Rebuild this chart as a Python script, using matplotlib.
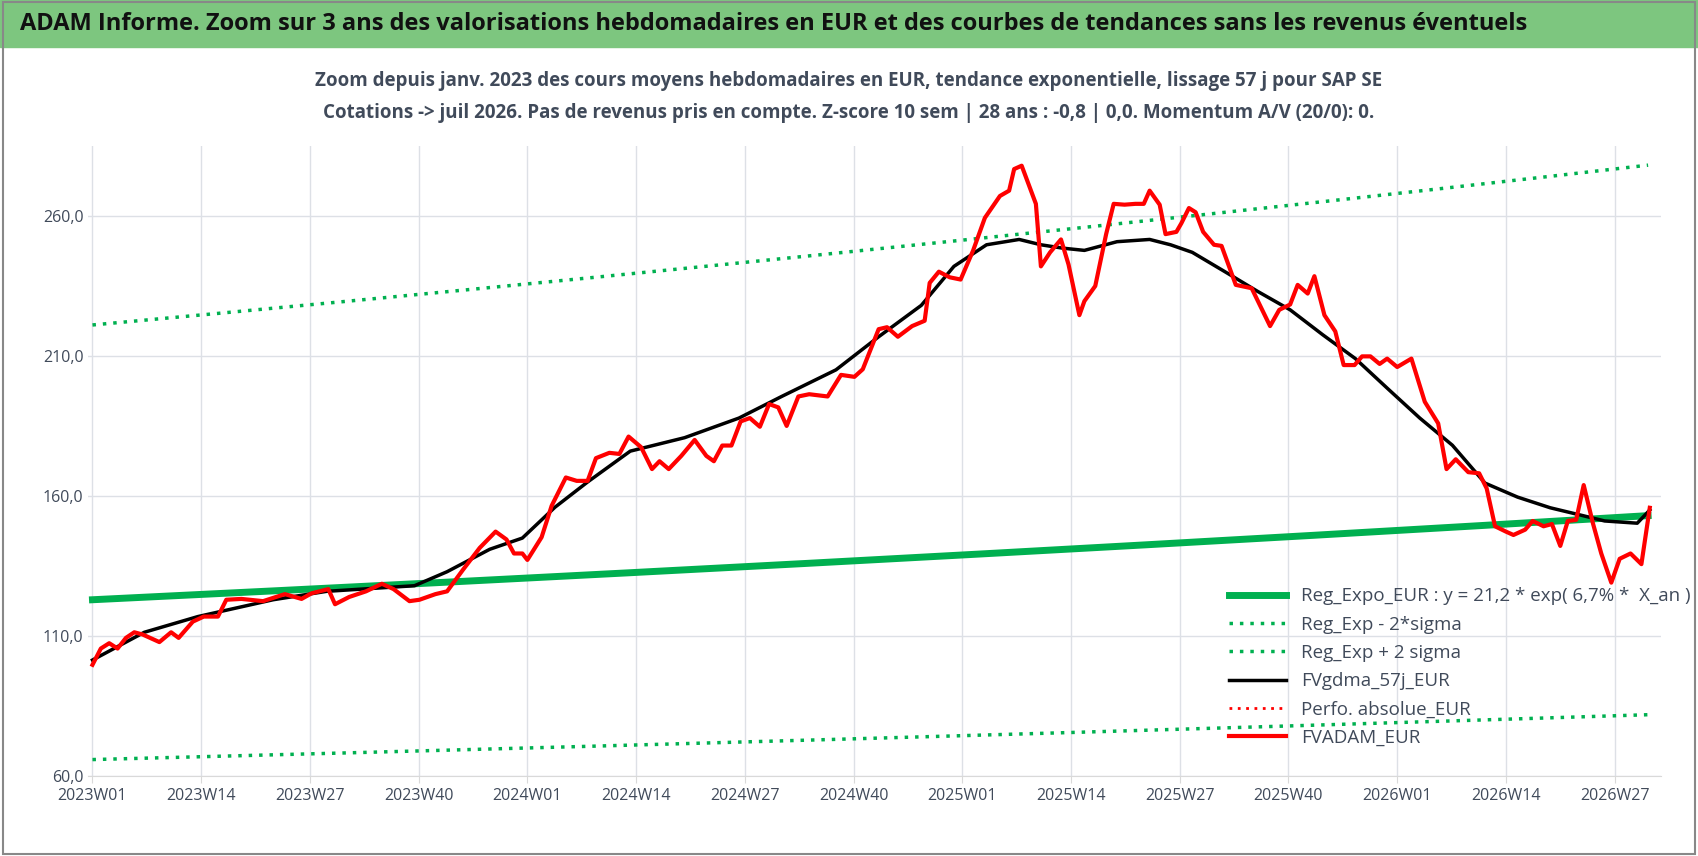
import matplotlib
matplotlib.use("Agg")
import matplotlib.pyplot as plt
from matplotlib.patches import Rectangle
import numpy as np

plt.rcParams['font.family'] = ['Open Sans', 'DejaVu Sans']

tick_labels = ["2023W01","2023W14","2023W27","2023W40","2024W01","2024W14","2024W27",
               "2024W40","2025W01","2025W14","2025W27","2025W40","2026W01","2026W14","2026W27"]
n_weeks = 187

red_w = [0,1,2,3,4,5,6,8,9.4,10.3,12,13.3,15,16,17.8,20.4,23,25,26.2,28.2,29,30.7,32.7,34.6,36,37.9,39.1,41,42.4,44.3,46.3,48.2,49.5,50.4,51.4,52,53.7,54.9,56.6,57.9,59.2,60.2,61.8,63,64.1,65.6,66.9,67.8,68.9,70.4,72,73.4,74.3,75.3,76.4,77.5,78.6,79.8,80.9,82,83,84.4,85.7,87.9,89.5,91.1,92.1,94,95,96.3,98,99.5,100.1,101.2,102.5,103.8,105.3,106.7,108.5,109.6,110.2,111.1,112.8,113.4,114.5,115.8,116.7,118,118.6,119.9,121.2,122.1,123.4,124.7,125.7,126.4,127.6,128.3,129.6,130.2,131.1,131.9,132.8,134.1,135,136.7,138.6,140.8,141.9,143.2,144.1,145.3,146.1,147.3,148.6,149.6,150.9,151.8,152.8,153.9,154.8,156,157.7,159.3,160.9,161.9,163,164.5,165.8,166.7,167.7,169,169.9,171.3,172.2,173.5,174.5,175.5,176.4,177.4,178.3,179.4,180.4,181.6,182.6,183.9,185.2,186.2]
red_v = [99.8,105.6,107.5,105.6,109.4,111.4,110.6,107.9,111.4,109.4,115.2,117,117,123,123.3,122.5,125,123.3,125.3,126.8,121.4,124,126,128.7,126.8,122.5,123,125,126,133.7,141.5,147.3,144.5,139.5,139.5,137.2,145.3,156.5,166.6,165.4,165.4,173.5,175.4,175,181.2,177.4,169.6,172.4,169.6,174.3,180,174.3,172.4,178,178,186.6,187.8,184.7,192.8,191.6,185,195.5,196.3,195.5,203.2,202.5,205.2,219.5,220.2,216.8,220.6,222.5,236,240,238,237.2,247.6,259.2,267,268.9,276.6,277.8,264.2,241.9,246.9,251.5,242.6,224.5,229.5,234.9,253.4,264.2,263.9,264.2,264.2,268.9,263.9,253.4,254.2,257.3,262.7,261.2,254.2,249.6,249.2,235.3,234.1,220.6,226.4,228.3,235.3,232.2,238.4,224.5,218.7,206.7,206.7,209.8,209.8,207.1,209,206,209,193.6,185.9,169.6,173.1,168.5,168.1,162.7,149.2,147.3,146.1,148,151.1,149.2,150,142.2,151.1,151.5,163.9,150.3,139.5,129.1,137.6,139.5,135.7,155.8]

blk_w = [0,6.2,12.6,21.6,28,38.5,42.4,47.5,51.4,55.3,59.2,64.3,70.8,77.3,82.4,88.9,94,99.1,103,106.9,110.8,113.4,116,118.6,122.5,126.4,128.9,131.5,135.4,139.3,143.2,147.1,151,154.9,158.7,162.6,166.5,170.4,174.3,178.2,180.8,184.7,186.2]
blk_v = [101.5,111.4,117,123,126,128,133,141,145,156,165,176,180.8,187.8,195.5,205,216.8,228,241.9,249.6,251.5,249.6,248.4,247.6,250.7,251.5,249.6,246.9,240,233,226.4,217.5,209,198.2,187.8,178.1,164.6,159.6,155.8,153,151.1,150.3,155]

reg_start, reg_end = 123.0, 153.0
low_start, low_end = 66.0, 82.0
up_start, up_end = 221.0, 278.0

weeks = np.arange(n_weeks)
reg = reg_start * np.exp(np.log(reg_end / reg_start) / (n_weeks - 1) * weeks)
low = low_start * np.exp(np.log(low_end / low_start) / (n_weeks - 1) * weeks)
up = up_start * np.exp(np.log(up_end / up_start) / (n_weeks - 1) * weeks)

fig = plt.figure(figsize=(16.98, 8.56), dpi=100)
fig.patches.append(Rectangle((0, 0.945), 1, 0.055, transform=fig.transFigure, color='#7dc67f', zorder=0))
fig.patches.append(Rectangle((0.002, 0.002), 0.996, 0.996, transform=fig.transFigure, fill=False, ec='#888888', lw=1.5))
fig.text(0.012, 0.972, "ADAM Informe. Zoom sur 3 ans des valorisations hebdomadaires en EUR et des courbes de tendances sans les revenus éventuels",
         fontsize=17, fontweight='bold', va='center', ha='left', color='#111111')
fig.text(0.5, 0.905, "Zoom depuis janv. 2023 des cours moyens hebdomadaires en EUR, tendance exponentielle, lissage 57 j pour SAP SE",
         fontsize=13.5, fontweight='bold', ha='center', va='center', color='#404a5a')
fig.text(0.5, 0.868, "Cotations -> juil 2026. Pas de revenus pris en compte. Z-score 10 sem | 28 ans : -0,8 | 0,0. Momentum A/V (20/0): 0.",
         fontsize=13.5, fontweight='bold', ha='center', va='center', color='#404a5a')

ax = fig.add_axes([0.052, 0.093, 0.926, 0.737])
ax.plot(weeks, reg, color='#00b050', lw=5, label="Reg_Expo_EUR : y = 21,2 * exp( 6,7% *  X_an )")
ax.plot(weeks, low, color='#00b050', lw=2.5, ls=(0, (1, 2)), label="Reg_Exp - 2*sigma")
ax.plot(weeks, up, color='#00b050', lw=2.5, ls=(0, (1, 2)), label="Reg_Exp + 2 sigma")
ax.plot(blk_w, blk_v, color='black', lw=2.5, label="FVgdma_57j_EUR")
ax.plot([], [], color='red', lw=2, ls=(0, (1, 2)), label="Perfo. absolue_EUR")
ax.plot(red_w, red_v, color='red', lw=3, label="FVADAM_EUR")

ax.set_xlim(-0.5, n_weeks + 0.5)
ax.set_ylim(60, 285)
ax.set_yticks([60, 110, 160, 210, 260])
ax.set_yticklabels(["60,0", "110,0", "160,0", "210,0", "260,0"])
ax.set_xticks(np.arange(0, n_weeks, 13)[:len(tick_labels)])
ax.set_xticklabels(tick_labels)
ax.tick_params(labelsize=11.5, colors='#404a5a', length=0)
ax.tick_params(axis='x', length=5, color='#d9d9d9')
ax.grid(True, color='#dde0e6', lw=1)
for s in ['top', 'right', 'left']:
    ax.spines[s].set_visible(False)
ax.spines['bottom'].set_color('#d9d9d9')
ax.legend(loc='lower left', bbox_to_anchor=(0.715, 0.02), frameon=False, fontsize=13.5,
          handlelength=3, labelspacing=0.55, labelcolor='#404a5a')
fig.savefig("out.png", dpi=100)
